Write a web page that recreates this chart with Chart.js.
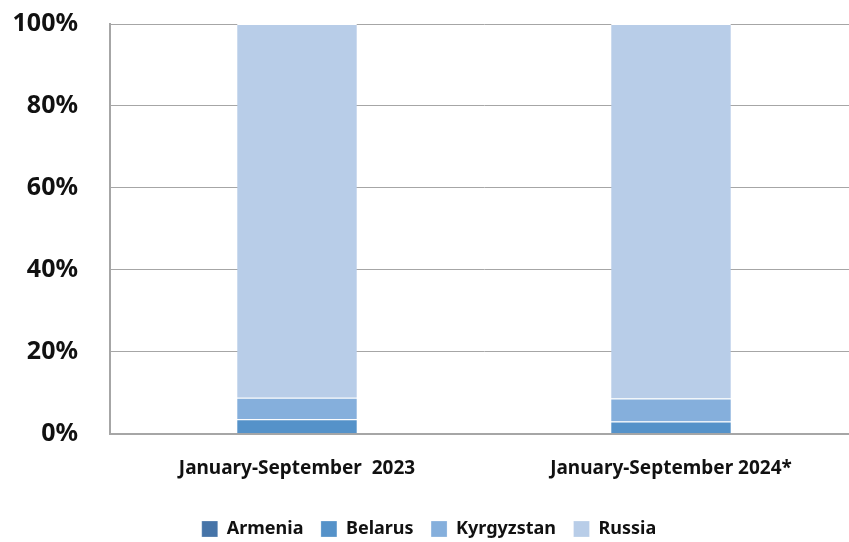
<!DOCTYPE html>
<html>
<head>
<meta charset="utf-8">
<script src="https://cdn.jsdelivr.net/npm/chart.js@4/dist/chart.umd.min.js"></script>
<style>
  html, body { margin: 0; padding: 0; background: #fff; overflow: hidden; }
  #wrap { width: 858px; height: 542px; }
</style>
</head>
<body>
<div id="wrap"><canvas id="chart"></canvas></div>
<script>
const categories = ['January-September  2023', 'January-September 2024*'];
const armenia = [0.1, 0.1];
const belarus = [3.4, 2.9];
const kyrgyzstan = [5.3, 5.6];
const russia = [91.2, 91.4];
const yTicks = [0, 20, 40, 60, 80, 100];

const font = '"Noto Sans", "Open Sans", sans-serif';

const mk = (label, data, color) => ({
  label, data, backgroundColor: color, borderColor: '#ffffff',
  borderWidth: { top: 1, bottom: 0, left: 0, right: 0 },
  barPercentage: 0.32, categoryPercentage: 1
});

new Chart(document.getElementById('chart'), {
  type: 'bar',
  data: {
    labels: categories,
    datasets: [
      mk('Armenia', armenia, '#4674a8'),
      mk('Belarus', belarus, '#5592c9'),
      mk('Kyrgyzstan', kyrgyzstan, '#85afdc'),
      mk('Russia', russia, '#b8cde8')
    ]
  },
  options: {
    responsive: true,
    maintainAspectRatio: false,
    animation: false,
    layout: { padding: { top: 24, bottom: -6 } },
    plugins: {
      tooltip: { enabled: false },
      legend: {
        position: 'bottom',
        labels: {
          boxWidth: 16, boxHeight: 16, padding: 17.5,
          color: '#111', font: { family: font, size: 18, weight: 'bold' }
        }
      }
    },
    scales: {
      x: {
        stacked: true,
        grid: { display: false, drawTicks: false },
        border: { color: '#a6a6a6', width: 2 },
        ticks: { padding: 23, color: '#111', font: { family: font, size: 19, weight: 'bold' } }
      },
      y: {
        stacked: true,
        min: 0, max: 100,
        afterBuildTicks: axis => { axis.ticks = yTicks.map(v => ({ value: v })); },
        afterFit: axis => { axis.width = 110; axis.paddingTop = 0; axis.paddingBottom = 0; },
        grid: { color: '#a6a6a6', lineWidth: 1, drawTicks: false },
        border: { color: '#a6a6a6', width: 2 },
        ticks: {
          padding: 32, color: '#111',
          font: { family: font, size: 25, weight: 'bold' },
          callback: v => v + '%'
        }
      }
    }
  }
});
</script>
</body>
</html>
